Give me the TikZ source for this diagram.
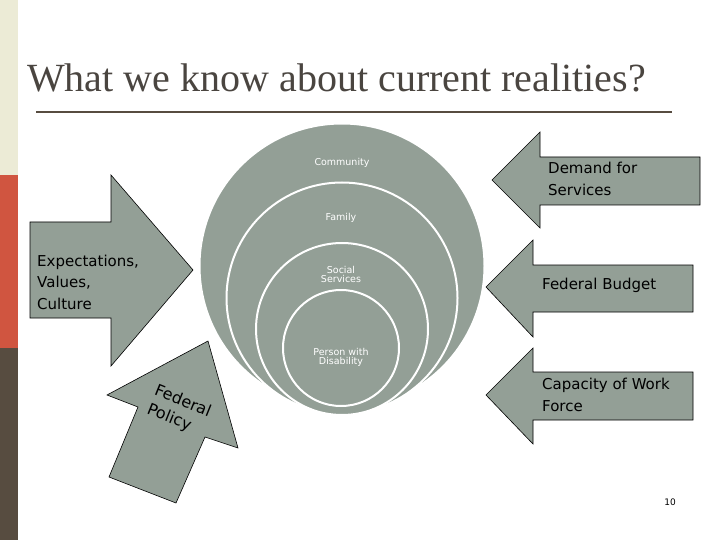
\documentclass[tikz,border=0pt]{standalone}
\usepackage{fontspec}
\setmainfont{Liberation Serif}
\newfontfamily\dv{DejaVu Sans}
\definecolor{beige}{HTML}{ECEBD6}
\definecolor{redc}{HTML}{D05540}
\definecolor{brownc}{HTML}{574C40}
\definecolor{gfill}{HTML}{939F96}
\definecolor{titlec}{HTML}{4A4540}
\tikzset{
  arr/.style={fill=gfill,draw=black,line width=0.6pt,line join=miter},
  circ/.style={fill=gfill,draw=white,line width=2pt},
  clab/.style={text=white,font=\dv\fontsize{9.5}{10}\selectfont,align=center},
  alab/.style={font=\dv\fontsize{15}{21.5}\selectfont,align=left,anchor=west,inner sep=0pt},
}
\begin{document}
\begin{tikzpicture}[x=1pt,y=-1pt]
\path[use as bounding box,fill=white] (0,0) rectangle (720,540);
\fill[beige] (0,0) rectangle (18,175);
\fill[redc] (0,175) rectangle (18,348);
\fill[brownc] (0,348) rectangle (18,540);
\node[anchor=base west,inner sep=0pt,text=titlec,font=\fontsize{40}{46}\selectfont] (title) at (27,92) {What we know about current realities?};
\draw[brownc,line width=2pt] (36,112) coordinate (r1) -- (672,112) coordinate (r2);
% circles
\node[circle,circ,minimum size=285pt] (c1) at (342,266) {};
\node[circle,circ,minimum size=231pt] (c2) at (342,298) {};
\node[circle,circ,minimum size=172pt] (c3) at (342,329) {};
\node[circle,circ,minimum size=116pt] (c4) at (341,348) {};
\node[clab] (l1) at (342,163) {Community};
\node[clab] (l2) at (341,218) {Family};
\node[clab] (l3) at (341,274) {Social\\[-1pt]Services};
\node[clab] (l4) at (341,357) {Person with\\[-1pt]Disability};
% left arrow
\draw[arr] (30,222) -- (111,222) -- (111,175) -- (193,270) -- (111,366) -- (111,318) -- (30,318) -- cycle;
\node[alab] (t1) at (37,282) {Expectations,\\Values,\\Culture};
% federal policy arrow
\draw[arr] (208,341) -- (238,448) -- (205,437) -- (176,503) -- (109,477) -- (138,407) -- (107,395) -- cycle;
\node[font=\dv\fontsize{16}{20}\selectfont,rotate=-22,align=left,inner sep=0pt] (t2) at (179,411) {Federal\\Policy};
% right arrows
\draw[arr] (492,180) -- (540,132) -- (540,157) -- (700,157) -- (700,205) -- (540,205) -- (540,228) -- cycle;
\node[alab] (t3) at (548,179) {Demand for\\Services};
\draw[arr] (486,287) -- (533,240) -- (533,265) -- (693,265) -- (693,312) -- (533,312) -- (533,337) -- cycle;
\node[alab] (t4) at (542,285) {Federal Budget};
\draw[arr] (486,395) -- (533,348) -- (533,372) -- (693,372) -- (693,420) -- (533,420) -- (533,444) -- cycle;
\node[alab] (t5) at (542,395) {Capacity of Work\\Force};
\node[font=\dv\fontsize{9}{10}\selectfont] (pg) at (670,502) {10};
\end{tikzpicture}
\end{document}
